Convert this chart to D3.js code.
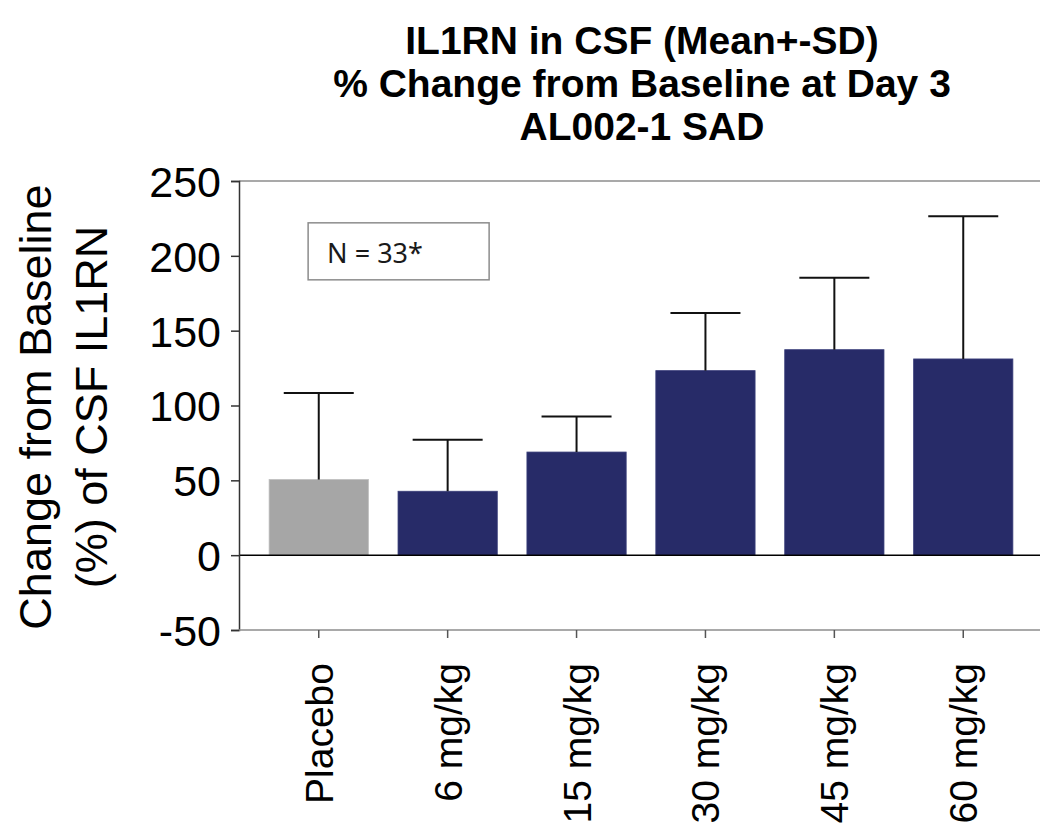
<!DOCTYPE html>
<html>
<head>
<meta charset="utf-8">
<script src="https://cdn.jsdelivr.net/npm/d3@7"></script>
<style>
  body { margin: 0; background: #fff; }
  svg text { font-family: "Liberation Sans", Arial, sans-serif; }
</style>
</head>
<body>
<svg id="chart" width="1040" height="825"></svg>
<script>
// data
var groups = ["Placebo", "6 mg/kg", "15 mg/kg", "30 mg/kg", "45 mg/kg", "60 mg/kg"];
var means  = [50.5, 42.7, 68.9, 123.3, 137.3, 131.1];
var sds    = [57.9, 34.4, 23.8, 38.5, 48.0, 95.4];
var yTicks = [-50, 0, 50, 100, 150, 200, 250];
var titleLines = ["IL1RN in CSF (Mean+-SD)", "% Change from Baseline at Day 3", "AL002-1 SAD"];
var yTitleLines = ["Change from Baseline", "(%) of CSF IL1RN"];
var noteText = "N = 33*";

var svg = d3.select("svg#chart"),
    margin = {top: 181, right: 0, bottom: 195, left: 239},
    width = +svg.attr("width") - margin.left - margin.right,
    height = +svg.attr("height") - margin.top - margin.bottom;

var x = d3.scaleBand()
    .domain(groups)
    .range([15.3, 788.7])
    .paddingInner(0.23)
    .paddingOuter(0.115);

var y = d3.scaleLinear()
    .domain([-50, 250])
    .range([height, 0]);

var g = svg.append("g")
    .attr("transform", "translate(" + margin.left + "," + margin.top + ")");

// top frame line
g.append("line")
    .attr("x1", 0).attr("x2", width + 5)
    .attr("y1", 0).attr("y2", 0)
    .attr("stroke", "#8c8c8c").attr("stroke-width", 1.5);

// bars
g.selectAll("rect.bar")
  .data(groups)
  .enter().append("rect")
    .attr("class", "bar")
    .attr("x", function(d) { return x(d); })
    .attr("width", x.bandwidth())
    .attr("y", function(d, i) { return y(means[i]); })
    .attr("height", function(d, i) { return y(0) - y(means[i]); })
    .attr("fill", function(d, i) { return i === 0 ? "#a6a6a6" : "#272b68"; })
    .attr("stroke", function(d, i) { return i === 0 ? "#bdbdbd" : "#3a3f7a"; })
    .attr("stroke-width", 0.8);

// error bars (upper only)
var capW = 70;
var err = g.selectAll("g.err")
  .data(groups)
  .enter().append("g")
    .attr("class", "err");

err.append("line")
    .attr("x1", function(d) { return x(d) + x.bandwidth() / 2; })
    .attr("x2", function(d) { return x(d) + x.bandwidth() / 2; })
    .attr("y1", function(d, i) { return y(means[i]); })
    .attr("y2", function(d, i) { return y(means[i] + sds[i]); })
    .attr("stroke", "#111").attr("stroke-width", 2);

err.append("line")
    .attr("x1", function(d) { return x(d) + x.bandwidth() / 2 - capW / 2; })
    .attr("x2", function(d) { return x(d) + x.bandwidth() / 2 + capW / 2; })
    .attr("y1", function(d, i) { return y(means[i] + sds[i]); })
    .attr("y2", function(d, i) { return y(means[i] + sds[i]); })
    .attr("stroke", "#111").attr("stroke-width", 2);

// zero line
g.append("line")
    .attr("x1", 0).attr("x2", width + 5)
    .attr("y1", y(0)).attr("y2", y(0))
    .attr("stroke", "#000").attr("stroke-width", 1.5);

// y axis
var yAxis = g.append("g")
    .attr("class", "axis axis--y")
    .call(d3.axisLeft(y).tickValues(yTicks).tickSize(8).tickPadding(10)
      .tickFormat(function(d) { return String(d); }));
yAxis.select(".domain").attr("stroke", "#333").attr("stroke-width", 1.5);
yAxis.selectAll(".tick line").attr("stroke", "#333").attr("stroke-width", 1.5);
yAxis.selectAll(".tick text")
    .attr("fill", "#000")
    .style("font-size", "43px")
    .attr("dy", "0.36em");

// x axis (bottom of plot)
var xAxis = g.append("g")
    .attr("class", "axis axis--x")
    .attr("transform", "translate(0," + height + ")")
    .call(d3.axisBottom(x).tickSize(8).tickSizeOuter(0));
xAxis.select(".domain").attr("stroke", "#8c8c8c").attr("stroke-width", 1.5)
    .attr("d", "M0,0H" + (width + 5));
xAxis.selectAll(".tick line").attr("stroke", "#555").attr("stroke-width", 1.5);
xAxis.selectAll(".tick text")
    .attr("fill", "#000")
    .style("font-size", "39px")
    .style("text-anchor", "end")
    .attr("transform", "rotate(-90)")
    .attr("x", -33)
    .attr("y", 0)
    .attr("dy", "0.36em");

// note box
var note = g.append("g")
    .attr("transform", "translate(" + (x(groups[0]) + 39) + "," + (y(200) - 33) + ")");
note.append("rect")
    .attr("width", 181).attr("height", 57)
    .attr("fill", "#fff")
    .attr("stroke", "#8c8c8c").attr("stroke-width", 1.5);
note.append("text")
    .attr("x", 19).attr("y", 40)
    .style("font-family", "'Noto Sans', sans-serif")
    .style("font-size", "27px")
    .attr("fill", "#1a1a1a")
    .text(noteText);

// title
svg.append("g").selectAll("text")
  .data(titleLines)
  .enter().append("text")
    .attr("x", 642)
    .attr("y", function(d, i) { return 54 + i * 43; })
    .attr("text-anchor", "middle")
    .style("font-size", "39px")
    .style("font-weight", "bold")
    .text(function(d) { return d; });

// y axis title
svg.append("g")
    .attr("transform", "translate(0," + 407 + ") rotate(-90)")
  .selectAll("text")
  .data(yTitleLines)
  .enter().append("text")
    .attr("x", 0)
    .attr("y", function(d, i) { return 51 + i * 56; })
    .attr("text-anchor", "middle")
    .style("font-size", "45px")
    .text(function(d) { return d; });
</script>
</body>
</html>
